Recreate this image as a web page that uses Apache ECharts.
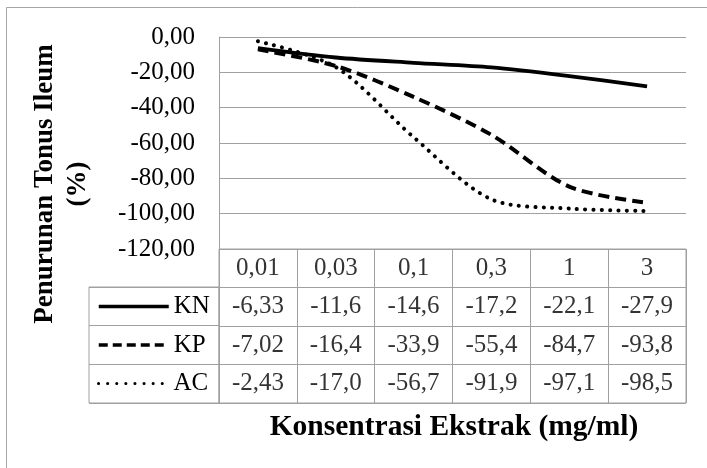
<!DOCTYPE html>
<html>
<head>
<meta charset="utf-8">
<script src="https://cdn.jsdelivr.net/npm/echarts@6/dist/echarts.min.js"></script>
<style>html,body{margin:0;padding:0;background:#fff}#c{width:707px;height:468px}</style>
</head>
<body>
<div id="c"></div>
<script>
const categories = ['0,01', '0,03', '0,1', '0,3', '1', '3'];
const seriesNames = ['KN', 'KP', 'AC'];
const knValues = [-6.33, -11.6, -14.6, -17.2, -22.1, -27.9];
const kpValues = [-7.02, -16.4, -33.9, -55.4, -84.7, -93.8];
const acValues = [-2.43, -17.0, -56.7, -91.9, -97.1, -98.5];
const yMin = -120, yMax = 0, yStep = 20;
const yTitle = 'Penurunan Tonus Ileum\n(%)';
const xTitle = 'Konsentrasi Ekstrak (mg/ml)';

const allValues = [knValues, kpValues, acValues];
const ff = '"Liberation Serif","Times New Roman",serif';
const grey = '#a0a0a0';
const fmt = v => v.toPrecision(3).replace('.', ',');

const tableData = [];
categories.forEach((c, ci) => tableData.push([ci, 0, c]));
allValues.forEach((vals, si) => vals.forEach((v, ci) => tableData.push([ci, si + 1, fmt(v)])));

const lineStyles = [
  { color: '#000', width: 3.8, type: 'solid' },
  { color: '#000', width: 4, type: [11, 6] },
  { color: '#000', width: 4, type: [0.1, 8.2], cap: 'round' }
];
const legendLineStyles = [
  { color: '#000', width: 3.5, type: 'solid' },
  { color: '#000', width: 3.5, type: [9, 5] },
  { color: '#000', width: 3, type: [0.1, 9], cap: 'round' }
];
const rowCenters = [306.5, 345, 383.5];

const chart = echarts.init(document.getElementById('c'));
chart.setOption({
  backgroundColor: '#fff',
  animation: false,
  color: ['#000', '#000', '#000', '#000'],
  grid: [
    { left: 219, right: 21, top: 37, bottom: 219 },
    { left: 219, right: 21, top: 249, bottom: 65, show: true, borderColor: grey, borderWidth: 1 },
    { left: 89, width: 130, top: 287, bottom: 65, show: true, borderColor: grey, borderWidth: 1 }
  ],
  xAxis: [
    { gridIndex: 0, type: 'category', data: categories, boundaryGap: true, show: false },
    { gridIndex: 1, type: 'category', data: categories, boundaryGap: true,
      axisLine: { show: false }, axisTick: { show: false }, axisLabel: { show: false },
      splitLine: { show: true, lineStyle: { color: grey, width: 1 } } },
    { gridIndex: 2, type: 'value', show: false }
  ],
  yAxis: [
    { gridIndex: 0, type: 'value', min: yMin, max: yMax, interval: yStep,
      axisLine: { show: true, lineStyle: { color: grey, width: 1 } },
      axisTick: { show: false },
      splitLine: { show: true, lineStyle: { color: grey, width: 1 } },
      axisLabel: { formatter: v => v.toFixed(2).replace('.', ','), color: '#000', fontSize: 25, fontFamily: ff, margin: 24 } },
    { gridIndex: 1, type: 'category', data: ['head'].concat(seriesNames), inverse: true,
      axisLine: { show: false }, axisTick: { show: false }, axisLabel: { show: false },
      splitLine: { show: true, lineStyle: { color: grey, width: 1 } } },
    { gridIndex: 2, type: 'category', data: seriesNames, inverse: true,
      axisLine: { show: false }, axisTick: { show: false }, axisLabel: { show: false },
      splitLine: { show: true, lineStyle: { color: grey, width: 1 } } }
  ],
  legend: seriesNames.map((n, i) => ({
    data: [n], left: 97, top: rowCenters[i] - 13, padding: 0,
    itemWidth: 70, itemHeight: 14, selectedMode: false,
    itemStyle: { opacity: 0 },
    lineStyle: legendLineStyles[i],
    textStyle: { fontSize: 25, fontFamily: ff, color: '#000', lineHeight: 26 }
  })),
  series: seriesNames.map((n, i) => ({
    type: 'line', name: n, data: allValues[i], xAxisIndex: 0, yAxisIndex: 0,
    symbol: 'none', smooth: 0.3, lineStyle: lineStyles[i], itemStyle: { color: '#000' }, silent: true
  })).concat([{
    type: 'scatter', name: 'table', xAxisIndex: 1, yAxisIndex: 1, symbolSize: 0,
    data: tableData, silent: true,
    label: { show: true, position: 'inside', formatter: p => p.value[2], color: '#000', fontSize: 25, fontFamily: ff }
  }]),
  graphic: [
    { type: 'rect', silent: true, z: -10, shape: { x: 6.5, y: 7.5, width: 740, height: 500 },
      style: { fill: 'none', stroke: '#a6a6a6', lineWidth: 1 } },
    { type: 'text', silent: true, x: 62, y: 184, rotation: Math.PI / 2,
      style: { text: yTitle, fontSize: 27, fontWeight: 'bold', fontFamily: ff, fill: '#000',
        align: 'center', verticalAlign: 'middle', lineHeight: 33 } },
    { type: 'text', silent: true, x: 454, y: 427,
      style: { text: xTitle, fontSize: 29.5, fontWeight: 'bold', fontFamily: ff, fill: '#000',
        align: 'center', verticalAlign: 'middle' } }
  ]
});
</script>
</body>
</html>
